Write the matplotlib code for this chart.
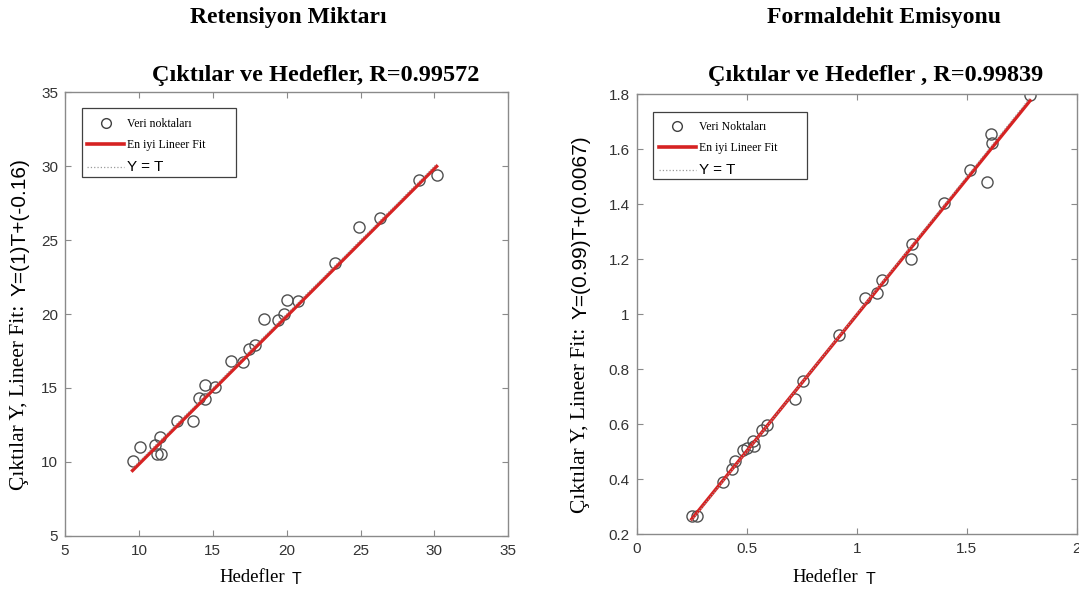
import matplotlib
matplotlib.use("Agg")
import matplotlib.pyplot as plt
from matplotlib.patches import Rectangle
from matplotlib.lines import Line2D
import numpy as np

# ---------------- data ----------------
ret_targets = [9.57, 10.07, 11.09, 11.2, 11.5, 11.43, 12.55, 13.69, 14.05, 14.5, 14.5, 15.16,
               16.25, 17.03, 17.44, 17.87, 18.5, 19.41, 19.82, 20.02, 20.77, 23.3, 24.9,
               26.31, 28.98, 30.15]
ret_outputs = [10.08, 10.98, 11.13, 10.5, 10.5, 11.65, 12.77, 12.73, 14.35, 14.28, 15.18, 15.09,
               16.82, 16.78, 17.6, 17.9, 19.68, 19.58, 20.01, 20.93, 20.86, 23.45, 25.92,
               26.48, 29.1, 29.4]
ret_slope, ret_intercept = 1.0, -0.16

form_targets = [0.25, 0.273, 0.391, 0.432, 0.447, 0.482, 0.503, 0.527, 0.533, 0.568, 0.594,
                0.72, 0.755, 0.921, 1.038, 1.091, 1.117, 1.245, 1.25, 1.397, 1.515, 1.594,
                1.609, 1.614, 1.788]
form_outputs = [0.267, 0.267, 0.389, 0.437, 0.464, 0.507, 0.513, 0.537, 0.522, 0.579, 0.597,
                0.692, 0.757, 0.925, 1.06, 1.076, 1.125, 1.2, 1.255, 1.404, 1.525, 1.482,
                1.656, 1.622, 1.799]
form_slope, form_intercept = 0.99, 0.0067

ret_xticks = [5, 10, 15, 20, 25, 30, 35]
ret_yticks = [5, 10, 15, 20, 25, 30, 35]
form_xticks = [0, 0.5, 1, 1.5, 2]
form_yticks = [0.2, 0.4, 0.6, 0.8, 1.0, 1.2, 1.4, 1.6, 1.8]

headings = ["Retensiyon Miktarı", "Formaldehit Emisyonu"]
titles = ["Çıktılar ve Hedefler, R=0.99572", "Çıktılar ve Hedefler , R=0.99839"]
ylab_serif = "Çıktılar Y, Lineer Fit:"
ylab_eqs = ["Y=(1)T+(-0.16)", "Y=(0.99)T+(0.0067)"]
leg_labels = [["Veri noktaları", "En iyi Lineer Fit", "Y = T"],
              ["Veri Noktaları", "En iyi Lineer Fit", "Y = T"]]

# ---------------- layout ----------------
W, H = 1079, 593
fig = plt.figure(figsize=(W / 100, H / 100), dpi=100)
fig.patch.set_facecolor("white")

def fx(px):
    return px / W

def fy(py):
    return 1 - py / H

SERIF = ["Liberation Serif", "DejaVu Serif"]
SANS = ["Liberation Sans", "DejaVu Sans"]
RED = "#d62222"
SPINE = "#8a8a8a"
TXT = "#333333"

ax1 = fig.add_axes([fx(65), fy(535.7), (508.3 - 65) / W, (535.7 - 92.3) / H])
ax2 = fig.add_axes([fx(636.7), fy(534), (1076.7 - 636.7) / W, (534 - 94.3) / H])

def fmt(v):
    return f"{v:g}"

def draw(ax, t, y, slope, intercept, xlim, ylim, xt, yt, labels, legbox):
    t = np.asarray(t)
    y = np.asarray(y)
    ax.plot(t, y, "o", mfc="none", mec="#505050", ms=8, mew=1.0, zorder=2)
    tl = np.array([t.min(), t.max()])
    ax.plot(tl, slope * tl + intercept, color=RED, lw=2.4, zorder=3)
    ax.plot(tl, tl, ls=":", color="#a0a0a0", lw=0.8, zorder=4)
    ax.set_xlim(*xlim)
    ax.set_ylim(*ylim)
    ax.set_xticks(xt)
    ax.set_yticks(yt)
    ax.set_xticklabels([fmt(v) for v in xt], family=SANS, fontsize=11, color=TXT)
    ax.set_yticklabels([fmt(v) for v in yt], family=SANS, fontsize=11, color=TXT)
    ax.tick_params(direction="in", top=True, right=True, length=4, width=0.8,
                   color=SPINE)
    ax.tick_params(axis="x", pad=6)
    ax.tick_params(axis="y", pad=5)
    for s in ax.spines.values():
        s.set_color(SPINE)
        s.set_linewidth(1.0)
    # legend box
    x0, y0, x1, y1 = legbox
    rect = Rectangle((fx(x0), fy(y1)), (x1 - x0) / W, (y1 - y0) / H,
                     transform=fig.transFigure, facecolor="white", edgecolor="#404040",
                     lw=0.9, zorder=5, clip_on=False)
    ax.add_patch(rect)
    handles = [Line2D([], [], ls="none", marker="o", mfc="none", mec="#404040", ms=7, mew=1.0),
               Line2D([], [], color=RED, lw=2.6),
               Line2D([], [], color="#9a9a9a", lw=0.9, ls=":")]
    leg = ax.legend(handles, labels, loc="upper left",
                    bbox_to_anchor=(fx(x0 - 5), fy(y0 - 1)), bbox_transform=fig.transFigure,
                    frameon=False, prop={"family": SERIF, "size": 8.5},
                    handlelength=3.1, handletextpad=0.3, labelspacing=0.75, borderpad=0.4)
    leg.set_zorder(6)
    texts = leg.get_texts()
    texts[2].set_fontfamily(SANS)
    texts[2].set_fontsize(11)
    return leg

draw(ax1, ret_targets, ret_outputs, ret_slope, ret_intercept, (5, 35), (5, 35),
     ret_xticks, ret_yticks, leg_labels[0], (81.7, 108.3, 235.7, 177.3))
draw(ax2, form_targets, form_outputs, form_slope, form_intercept, (0, 2), (0.2, 1.8),
     form_xticks, form_yticks, leg_labels[1], (653.3, 111.7, 806.7, 179.3))

# headings
fig.text(fx(288), fy(18), headings[0], ha="center", va="center", family=SERIF,
         fontsize=17, fontweight="bold")
fig.text(fx(884), fy(18), headings[1], ha="center", va="center", family=SERIF,
         fontsize=17, fontweight="bold")

# subplot titles
fig.text(fx(316), fy(76), titles[0], ha="center", va="center", family=SERIF,
         fontsize=17.5, fontweight="bold")
fig.text(fx(876), fy(75), titles[1], ha="center", va="center", family=SERIF,
         fontsize=17.5, fontweight="bold")

# y labels (serif part then equation in sans, chained)
renderer = fig.canvas.get_renderer()
for xc, ybot, eq in [(20, 490, ylab_eqs[0]), (581, 513, ylab_eqs[1])]:
    t1 = fig.text(fx(xc), fy(ybot), ylab_serif, rotation=90, ha="center", va="bottom",
                  family=SERIF, fontsize=15.5)
    bb = t1.get_window_extent(renderer)
    top_px = bb.y1  # display coords (from bottom)
    fig.text(fx(xc), (top_px + 9) / H, eq, rotation=90, ha="center", va="bottom",
             family=SANS, fontsize=15)

# x labels
fig.text(fx(285), fy(577), "Hedefler", ha="right", va="center", family=SERIF, fontsize=13.5)
fig.text(fx(292), fy(579), "T", ha="left", va="center", family=SANS, fontsize=11.5)
fig.text(fx(858), fy(577), "Hedefler", ha="right", va="center", family=SERIF, fontsize=13.5)
fig.text(fx(866), fy(579), "T", ha="left", va="center", family=SANS, fontsize=11.5)

fig.savefig("out.png", dpi=100)
